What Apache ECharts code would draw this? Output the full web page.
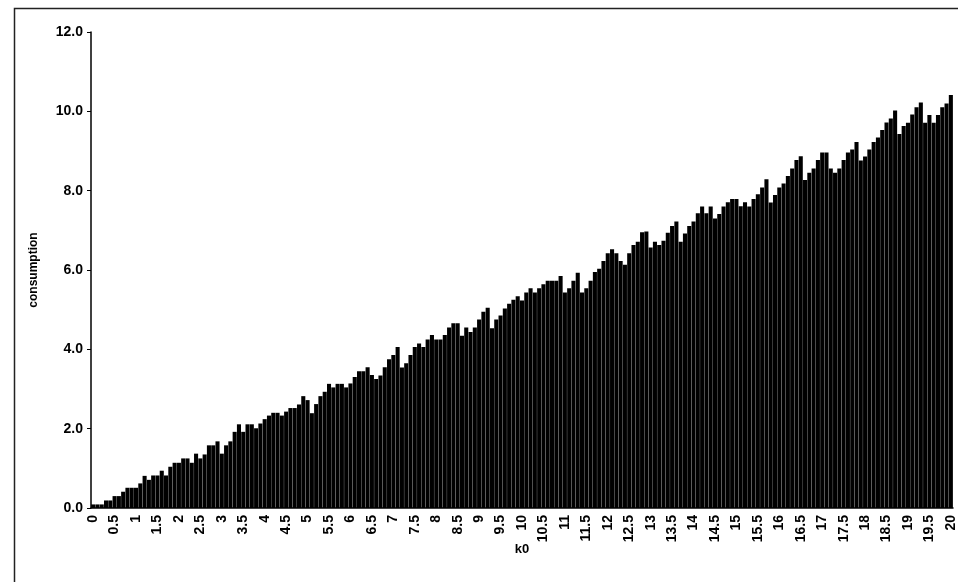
<!DOCTYPE html>
<html>
<head>
<meta charset="utf-8">
<title>consumption vs k0</title>
<script src="https://cdn.jsdelivr.net/npm/echarts@6/dist/echarts.min.js"></script>
<style>
  html, body { margin: 0; padding: 0; background: #fff; }
  #chart { width: 958px; height: 582px; }
</style>
</head>
<body>
<div id="chart"></div>
<script>
// k0 from 0 to 20, step 0.1 (one bar each), labelled every 0.5
var k0 = [];
for (var i = 0; i <= 200; i++) {
  k0.push(String(i / 10));
}

// consumption
var consumption = [
  0.09, 0.09, 0.09, 0.19, 0.19, 0.30, 0.30, 0.41, 0.51, 0.51,
  0.51, 0.62, 0.81, 0.71, 0.82, 0.82, 0.94, 0.82, 1.04, 1.14,
  1.14, 1.25, 1.25, 1.14, 1.37, 1.25, 1.35, 1.58, 1.58, 1.68,
  1.37, 1.58, 1.68, 1.92, 2.11, 1.92, 2.11, 2.11, 2.01, 2.13,
  2.24, 2.33, 2.40, 2.40, 2.33, 2.43, 2.52, 2.52, 2.61, 2.82,
  2.72, 2.39, 2.62, 2.82, 2.93, 3.13, 3.04, 3.13, 3.13, 3.04,
  3.14, 3.30, 3.45, 3.45, 3.55, 3.35, 3.25, 3.34, 3.55, 3.75,
  3.86, 4.06, 3.54, 3.65, 3.86, 4.06, 4.15, 4.06, 4.25, 4.36,
  4.25, 4.25, 4.36, 4.55, 4.66, 4.66, 4.34, 4.55, 4.44, 4.55,
  4.75, 4.95, 5.05, 4.53, 4.75, 4.85, 5.03, 5.15, 5.25, 5.34,
  5.23, 5.43, 5.54, 5.43, 5.54, 5.64, 5.73, 5.73, 5.73, 5.85,
  5.43, 5.54, 5.73, 5.93, 5.43, 5.54, 5.73, 5.95, 6.03, 6.23,
  6.42, 6.52, 6.42, 6.23, 6.13, 6.42, 6.63, 6.71, 6.95, 6.97,
  6.57, 6.71, 6.63, 6.74, 6.94, 7.11, 7.22, 6.71, 6.92, 7.11,
  7.22, 7.43, 7.60, 7.43, 7.60, 7.30, 7.41, 7.60, 7.71, 7.79,
  7.79, 7.61, 7.71, 7.60, 7.79, 7.91, 8.08, 8.29, 7.70, 7.89,
  8.08, 8.18, 8.37, 8.56, 8.77, 8.87, 8.27, 8.45, 8.56, 8.77,
  8.96, 8.96, 8.56, 8.45, 8.56, 8.77, 8.96, 9.04, 9.23, 8.76,
  8.86, 9.04, 9.23, 9.34, 9.53, 9.72, 9.82, 10.02, 9.43, 9.63,
  9.71, 9.92, 10.10, 10.22, 9.71, 9.91, 9.71, 9.91, 10.10, 10.20,
  10.41
];

var yTicks = { min: 0, max: 12, step: 2 };

var labelFont = {
  color: '#000',
  fontFamily: 'Liberation Sans, Arial, sans-serif',
  fontWeight: 'bold',
  fontSize: 14
};

var myChart = echarts.init(document.getElementById('chart'));

var option = {
  backgroundColor: '#ffffff',
  animation: false,
  grid: {
    left: 91,
    right: 5,
    top: 32,
    bottom: 74
  },
  // frame round the chart (only top and left edges are in view)
  graphic: [{
    type: 'rect',
    shape: { x: 14.5, y: 8.5, width: 1200, height: 1200 },
    style: { fill: 'none', stroke: '#222', lineWidth: 1.5 },
    silent: true
  }],
  xAxis: {
    type: 'category',
    data: k0,
    boundaryGap: true,
    name: 'k0',
    nameLocation: 'middle',
    nameGap: 35,
    nameMoveOverlap: false,
    nameTextStyle: {
      color: '#000',
      fontFamily: 'Liberation Sans, Arial, sans-serif',
      fontWeight: 'bold',
      fontSize: 13
    },
    axisLine: { lineStyle: { color: '#000', width: 1.5 } },
    axisTick: { interval: 4, length: 5, lineStyle: { color: '#000' } },
    axisLabel: Object.assign({ interval: 4, rotate: 90, margin: 7 }, labelFont),
    splitLine: { show: false }
  },
  yAxis: {
    type: 'value',
    min: yTicks.min,
    max: yTicks.max,
    interval: yTicks.step,
    name: 'consumption',
    nameLocation: 'middle',
    nameGap: 51,
    nameTextStyle: {
      color: '#000',
      fontFamily: 'Liberation Sans, Arial, sans-serif',
      fontWeight: 'bold',
      fontSize: 12
    },
    axisLine: { show: true, lineStyle: { color: '#000', width: 1.5 } },
    axisTick: { show: true, length: 4, lineStyle: { color: '#000' } },
    axisLabel: Object.assign({
      margin: 8,
      formatter: function (v) { return v.toFixed(1); }
    }, labelFont),
    splitLine: { show: false }
  },
  series: [{
    name: 'consumption',
    type: 'bar',
    data: consumption,
    barCategoryGap: '5%',
    itemStyle: { color: '#000' }
  }]
};

myChart.setOption(option);
</script>
</body>
</html>
